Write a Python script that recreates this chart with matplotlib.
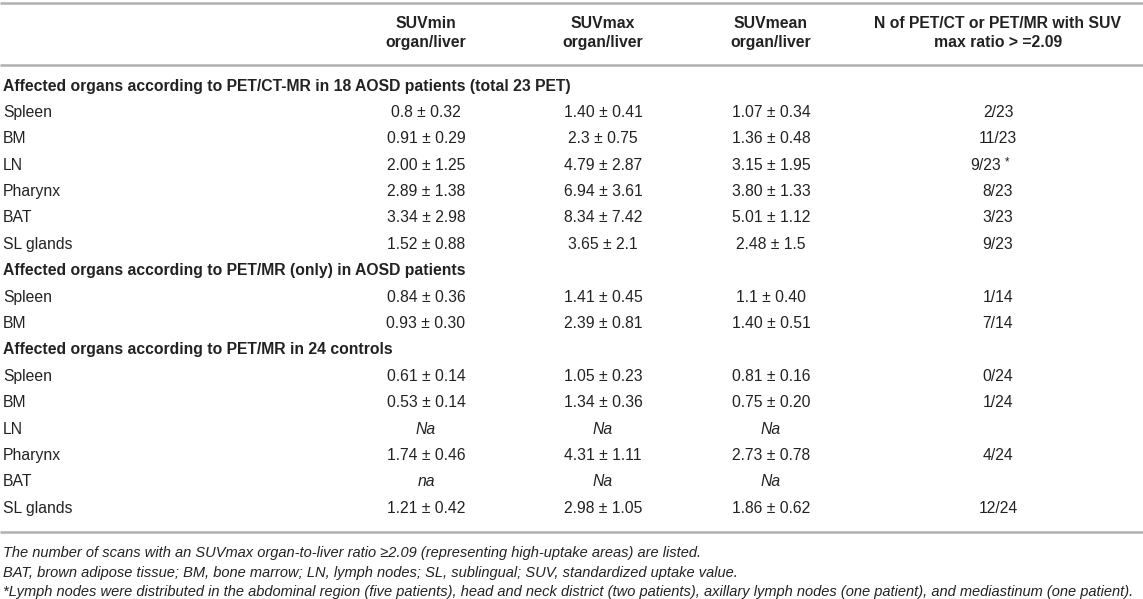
import matplotlib.pyplot as plt

plt.rcParams['font.family'] = ['Liberation Sans', 'DejaVu Sans']

# table content
col_headers = ["SUVmin\norgan/liver", "SUVmax\norgan/liver", "SUVmean\norgan/liver",
               "N of PET/CT or PET/MR with SUV\nmax ratio > =2.09"]

sections = [
    "Affected organs according to PET/CT-MR in 18 AOSD patients (total 23 PET)",
    "Affected organs according to PET/MR (only) in AOSD patients",
    "Affected organs according to PET/MR in 24 controls",
]

organs_1 = ["Spleen", "BM", "LN", "Pharynx", "BAT", "SL glands"]
suvmin_1 = ["0.8 ± 0.32", "0.91 ± 0.29", "2.00 ± 1.25", "2.89 ± 1.38", "3.34 ± 2.98", "1.52 ± 0.88"]
suvmax_1 = ["1.40 ± 0.41", "2.3 ± 0.75", "4.79 ± 2.87", "6.94 ± 3.61", "8.34 ± 7.42", "3.65 ± 2.1"]
suvmean_1 = ["1.07 ± 0.34", "1.36 ± 0.48", "3.15 ± 1.95", "3.80 ± 1.33", "5.01 ± 1.12", "2.48 ± 1.5"]
n_1 = ["2/23", "11/23", "9/23 *", "8/23", "3/23", "9/23"]

organs_2 = ["Spleen", "BM"]
suvmin_2 = ["0.84 ± 0.36", "0.93 ± 0.30"]
suvmax_2 = ["1.41 ± 0.45", "2.39 ± 0.81"]
suvmean_2 = ["1.1 ± 0.40", "1.40 ± 0.51"]
n_2 = ["1/14", "7/14"]

organs_3 = ["Spleen", "BM", "LN", "Pharynx", "BAT", "SL glands"]
suvmin_3 = ["0.61 ± 0.14", "0.53 ± 0.14", "Na", "1.74 ± 0.46", "na", "1.21 ± 0.42"]
suvmax_3 = ["1.05 ± 0.23", "1.34 ± 0.36", "Na", "4.31 ± 1.11", "Na", "2.98 ± 1.05"]
suvmean_3 = ["0.81 ± 0.16", "0.75 ± 0.20", "Na", "2.73 ± 0.78", "Na", "1.86 ± 0.62"]
n_3 = ["0/24", "1/24", "", "4/24", "", "12/24"]

footnotes = [
    "The number of scans with an SUVmax organ-to-liver ratio \u22652.09 (representing high-uptake areas) are listed.",
    "BAT, brown adipose tissue; BM, bone marrow; LN, lymph nodes; SL, sublingual; SUV, standardized uptake value.",
    "*Lymph nodes were distributed in the abdominal region (five patients), head and neck district (two patients), "
    "axillary lymph nodes (one patient), and mediastinum (one patient).",
]

W, H = 1143, 599
fig = plt.figure(figsize=(W / 100, H / 100), dpi=100)
ax = fig.add_axes([0, 0, 1, 1])
ax.set_xlim(0, W)
ax.set_ylim(H, 0)
ax.axis('off')

col_x = [426, 603, 771, 998]
fs = 11.3
txt_col = '#222222'
line_col = '#b0b0b0'

# rules
for y in [3, 65, 532]:
    ax.plot([0, W], [y, y], color=line_col, lw=1.8, solid_capstyle='butt')

# header
for x, h in zip(col_x, col_headers):
    ax.text(x, 33, h, ha='center', va='center', fontsize=fs, fontweight='bold',
            color=txt_col, linespacing=1.35)

row_h = 26.4
y = 86
blocks = [
    (organs_1, suvmin_1, suvmax_1, suvmean_1, n_1),
    (organs_2, suvmin_2, suvmax_2, suvmean_2, n_2),
    (organs_3, suvmin_3, suvmax_3, suvmean_3, n_3),
]
for title, blk in zip(sections, blocks):
    ax.text(3, y, title, ha='left', va='center', fontsize=fs, fontweight='bold', color=txt_col)
    y += row_h
    for organ, a, b, c, n in zip(*blk):
        ax.text(3, y, organ, ha='left', va='center', fontsize=fs, color=txt_col)
        for x, v in zip(col_x[:3], [a, b, c]):
            st = 'italic' if v.lower() == 'na' else 'normal'
            ax.text(x, y, v, ha='center', va='center', fontsize=fs, color=txt_col, style=st)
        if n.endswith('*'):
            ax.text(col_x[3] - 12, y, n[:-2], ha='center', va='center', fontsize=fs, color=txt_col)
            ax.text(col_x[3] + 7, y - 3, '*', ha='left', va='center', fontsize=fs - 3, color=txt_col)
        else:
            ax.text(col_x[3], y, n, ha='center', va='center', fontsize=fs, color=txt_col)
        y += row_h

for i, f in enumerate(footnotes):
    ax.text(3, 553 + i * 19.5, f, ha='left', va='center', fontsize=10.5, style='italic', color=txt_col)

fig.savefig('out.png', dpi=100)
